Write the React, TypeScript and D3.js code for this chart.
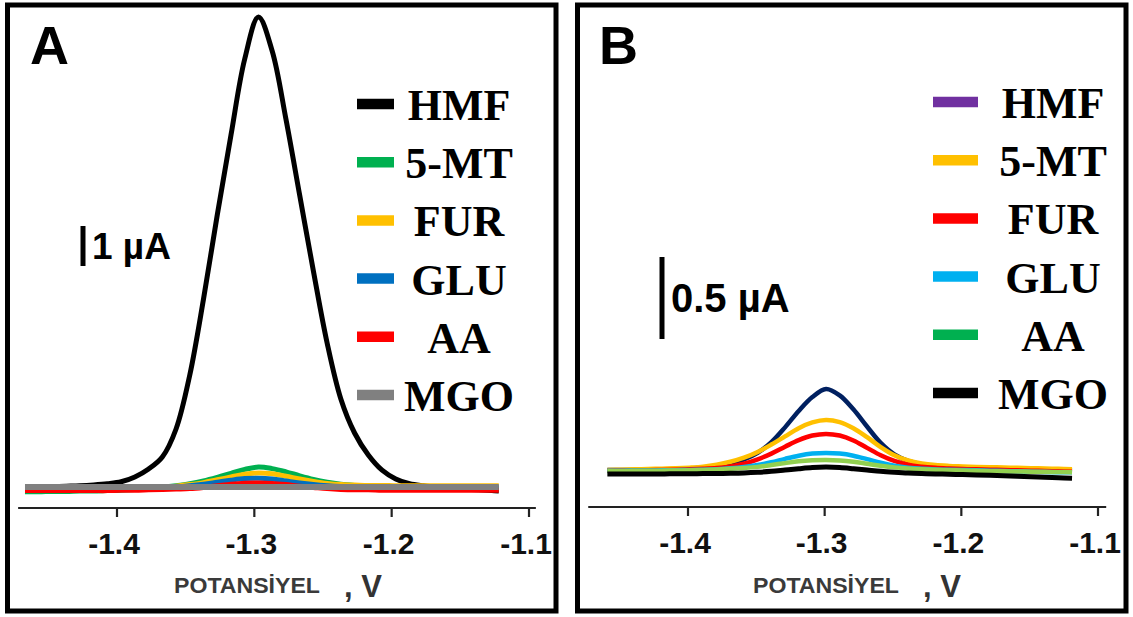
import React from 'react';
import * as d3 from 'd3';

// potential grids (V)
const POT_A = [-1.467, -1.457, -1.447, -1.437, -1.427, -1.417, -1.407, -1.397, -1.387, -1.377, -1.367, -1.357, -1.347, -1.337, -1.327, -1.317, -1.307, -1.297, -1.287, -1.277, -1.267, -1.257, -1.247, -1.237, -1.227, -1.217, -1.207, -1.197, -1.187, -1.177, -1.167, -1.157, -1.147, -1.137, -1.127, -1.122];
const POT_B = [-1.459, -1.449, -1.439, -1.429, -1.419, -1.409, -1.399, -1.389, -1.379, -1.369, -1.359, -1.349, -1.339, -1.329, -1.319, -1.309, -1.299, -1.289, -1.279, -1.269, -1.259, -1.249, -1.239, -1.229, -1.219, -1.209, -1.199, -1.189, -1.179, -1.169, -1.159, -1.149, -1.139, -1.129, -1.119];

const TICKS = [-1.4, -1.3, -1.2, -1.1];
const TICK_LABELS = ['-1.4', '-1.3', '-1.2', '-1.1'];
const LEGEND = ['HMF', '5-MT', 'FUR', 'GLU', 'AA', 'MGO'];

// panel A currents (uA)
const A_HMF = [0, 0, 0.01, 0.02, 0.03, 0.05, 0.08, 0.13, 0.25, 0.45, 0.75, 1.45, 2.8, 4.7, 6.8, 8.8, 10.7, 11.75, 10.9, 9.2, 7.3, 5.4, 3.6, 2.2, 1.35, 0.8, 0.42, 0.2, 0.08, 0.03, 0, -0.03, -0.05, -0.07, -0.09, -0.1];
const A_5MT = [-0.12, -0.12, -0.11, -0.11, -0.1, -0.1, -0.09, -0.08, -0.06, -0.04, -0.01, 0.03, 0.08, 0.15, 0.24, 0.34, 0.44, 0.5, 0.46, 0.38, 0.28, 0.19, 0.12, 0.07, 0.04, 0.02, 0.01, 0, -0.01, -0.02, -0.02, -0.03, -0.03, -0.04, -0.05, -0.05];
const A_FUR = [-0.03, -0.03, -0.03, -0.03, -0.03, -0.03, -0.03, -0.03, -0.02, -0.02, -0.01, 0.02, 0.06, 0.11, 0.18, 0.25, 0.32, 0.35, 0.33, 0.27, 0.2, 0.14, 0.09, 0.06, 0.05, 0.04, 0.04, 0.03, 0.03, 0.03, 0.03, 0.03, 0.03, 0.03, 0.03, 0.03];
const A_GLU = [-0.04, -0.04, -0.04, -0.04, -0.04, -0.04, -0.04, -0.04, -0.03, -0.03, -0.02, 0, 0.03, 0.07, 0.12, 0.17, 0.21, 0.22, 0.2, 0.15, 0.1, 0.06, 0.03, 0.01, 0, -0.01, -0.02, -0.02, -0.02, -0.02, -0.02, -0.02, -0.02, -0.02, -0.02, -0.02];
const A_AA = [-0.09, -0.09, -0.09, -0.09, -0.09, -0.09, -0.09, -0.08, -0.08, -0.07, -0.06, -0.05, -0.04, -0.01, 0.03, 0.07, 0.095, 0.1, 0.09, 0.06, 0.02, -0.01, -0.04, -0.06, -0.07, -0.07, -0.08, -0.08, -0.08, -0.08, -0.08, -0.08, -0.08, -0.08, -0.08, -0.08];
const A_MGO = [0, 0, 0, 0, 0, 0, 0, 0, 0, 0, 0, 0, 0, 0, 0, 0, 0, 0, 0, 0, 0, 0, 0, 0, 0, 0, 0, 0, 0, 0, 0, 0, 0, 0, 0, 0];

// panel B currents (uA)
const B_HMF = [0, 0, 0, 0.002, 0.004, 0.006, 0.01, 0.015, 0.025, 0.04, 0.065, 0.105, 0.17, 0.26, 0.36, 0.445, 0.494, 0.455, 0.37, 0.265, 0.165, 0.095, 0.055, 0.035, 0.025, 0.02, 0.016, 0.013, 0.01, 0.008, 0.006, 0.004, 0.002, 0, -0.002];
const B_5MT = [0, 0.002, 0.004, 0.006, 0.008, 0.01, 0.014, 0.02, 0.032, 0.05, 0.075, 0.11, 0.155, 0.205, 0.255, 0.29, 0.305, 0.292, 0.255, 0.2, 0.14, 0.09, 0.058, 0.04, 0.03, 0.025, 0.022, 0.019, 0.017, 0.015, 0.013, 0.011, 0.009, 0.007, 0.005];
const B_FUR = [-0.004, -0.003, -0.002, -0.001, 0, 0.002, 0.004, 0.007, 0.012, 0.022, 0.038, 0.065, 0.1, 0.142, 0.182, 0.21, 0.22, 0.21, 0.18, 0.135, 0.09, 0.055, 0.032, 0.02, 0.013, 0.009, 0.006, 0.004, 0.002, 0, -0.002, -0.004, -0.006, -0.008, -0.01];
const B_GLU = [-0.004, -0.004, -0.003, -0.003, -0.002, -0.001, 0, 0.002, 0.005, 0.01, 0.018, 0.03, 0.047, 0.068, 0.087, 0.1, 0.104, 0.1, 0.087, 0.066, 0.044, 0.026, 0.014, 0.007, 0.003, 0.001, 0, -0.002, -0.004, -0.006, -0.008, -0.01, -0.012, -0.013, -0.014];
const B_AA = [-0.006, -0.006, -0.005, -0.005, -0.004, -0.003, -0.002, 0, 0.003, 0.007, 0.012, 0.019, 0.03, 0.042, 0.053, 0.059, 0.061, 0.058, 0.05, 0.038, 0.026, 0.016, 0.009, 0.004, 0.001, -0.001, -0.003, -0.005, -0.007, -0.008, -0.009, -0.01, -0.011, -0.012, -0.013];
const B_MGO = [-0.024, -0.024, -0.024, -0.024, -0.024, -0.023, -0.023, -0.022, -0.021, -0.02, -0.018, -0.014, -0.008, 0, 0.008, 0.015, 0.018, 0.015, 0.008, 0, -0.008, -0.014, -0.019, -0.022, -0.024, -0.026, -0.028, -0.03, -0.032, -0.035, -0.038, -0.041, -0.044, -0.047, -0.05];

const A_CURVE_COLORS = ['#000000', '#00B050', '#FFC000', '#0070C0', '#FF0000', '#808080'];
const A_LEGEND_COLORS = A_CURVE_COLORS;
const B_CURVE_COLORS = ['#002060', '#FFC000', '#FF0000', '#00B0F0', '#92D050', '#000000'];
const B_LEGEND_COLORS = ['#7030A0', '#FFC000', '#FF0000', '#00B0F0', '#00B050', '#000000'];

const SANS = '"Liberation Sans", Arial, sans-serif';
const SERIF = '"Liberation Serif", "Times New Roman", serif';

const Panel = ({ p }) => {
  const x = d3.scaleLinear().domain([-1.4, -1.1]).range(p.xRange);
  const y = d3.scaleLinear().domain([0, p.yUnit]).range([p.y0, p.y0 - p.yPx]);
  const line = d3.line().x((d) => x(d[0])).y((d) => y(d[1])).curve(d3.curveCatmullRom.alpha(0.5));
  const barLen = y(0) - y(p.barValue);

  return (
    <g>
      <rect x={p.box[0]} y={p.box[1]} width={p.box[2]} height={p.box[3]} fill="none" stroke="#000" strokeWidth={5} />
      <text x={p.letterX} y={64} fontFamily={SANS} fontWeight="bold" fontSize={54}>{p.letter}</text>

      {p.series.map((vals, i) => (
        <path key={i} d={line(vals.map((v, j) => [p.pot[j], v]))} fill="none"
          stroke={p.curveColors[i]} strokeWidth={p.strokeW[i]} strokeLinejoin="round" />
      ))}

      {/* axis */}
      <line x1={x(p.axisDomain[0])} x2={x(p.axisDomain[1])} y1={p.axisY} y2={p.axisY} stroke="#222" strokeWidth={2.2} />
      {TICKS.map((t, i) => (
        <g key={t}>
          <line x1={x(t)} x2={x(t)} y1={p.axisY} y2={p.axisY + 9} stroke="#222" strokeWidth={2.2} />
          <text x={x(t) - 3} y={p.axisY + 46} textAnchor="middle" fontFamily={SANS} fontWeight="bold" fontSize={30} fill="#111">{TICK_LABELS[i]}</text>
        </g>
      ))}
      <text x={p.titleX} y={593} fontFamily={SANS} fontWeight="bold" fontSize={22}
        fill="#3a3a3a" textLength={146} lengthAdjust="spacingAndGlyphs">POTANSİYEL</text>
      <text x={p.titleX + 170} y={597} fontFamily={SANS} fontWeight="bold" fontSize={31} fill="#333">, V</text>

      {/* scale bar */}
      <line x1={p.barX} x2={p.barX} y1={p.barTop} y2={p.barTop + barLen} stroke="#000" strokeWidth={5} />
      <text x={p.barX + 9} y={p.barTextY} fontFamily={SANS} fontWeight="bold" fontSize={p.barFont}>{p.barLabel}</text>

      {/* legend */}
      {LEGEND.map((name, i) => (
        <g key={name}>
          <line x1={p.legX} x2={p.legX + p.legW} y1={p.legY + i * 58.2} y2={p.legY + i * 58.2}
            stroke={p.legendColors[i]} strokeWidth={10.5} />
          <text x={p.legTextX} y={p.legY + 16 + i * 58.2} textAnchor="middle" fontFamily={SERIF}
            fontWeight="bold" fontSize={44}>{name}</text>
        </g>
      ))}
    </g>
  );
};

export default function App() {
  const panels = [
    {
      letter: 'A', letterX: 30, box: [7.5, 5, 548.5, 606],
      xRange: [117, 529], axisY: 508, axisDomain: [-1.472, -1.095],
      pot: POT_A, series: [A_HMF, A_5MT, A_FUR, A_GLU, A_AA, A_MGO],
      curveColors: A_CURVE_COLORS, legendColors: A_LEGEND_COLORS,
      strokeW: [5, 5, 5, 5, 5, 6],
      y0: 487, yUnit: 1, yPx: 40,
      titleX: 174,
      barX: 83, barTop: 226, barValue: 1, barLabel: '1 µA', barFont: 37, barTextY: 259,
      legX: 357, legW: 37, legY: 104, legTextX: 459,
    },
    {
      letter: 'B', letterX: 599, box: [577.5, 5, 548.5, 606],
      xRange: [688, 1098], axisY: 507, axisDomain: [-1.473, -1.094],
      pot: POT_B, series: [B_HMF, B_5MT, B_FUR, B_GLU, B_AA, B_MGO],
      curveColors: B_CURVE_COLORS, legendColors: B_LEGEND_COLORS,
      strokeW: [4.5, 4.5, 4.5, 4.5, 4.5, 5],
      y0: 470, yUnit: 0.5, yPx: 82,
      titleX: 753,
      barX: 662, barTop: 257, barValue: 0.5, barLabel: '0.5 µA', barFont: 40, barTextY: 312,
      legX: 933, legW: 45, legY: 102, legTextX: 1053,
    },
  ];

  return (
    <svg width={1133} height={617} style={{ position: 'absolute', left: 0, top: 0, background: '#fff' }}>
      <rect width={1133} height={617} fill="#fff" />
      {panels.map((p) => <Panel key={p.letter} p={p} />)}
    </svg>
  );
}
